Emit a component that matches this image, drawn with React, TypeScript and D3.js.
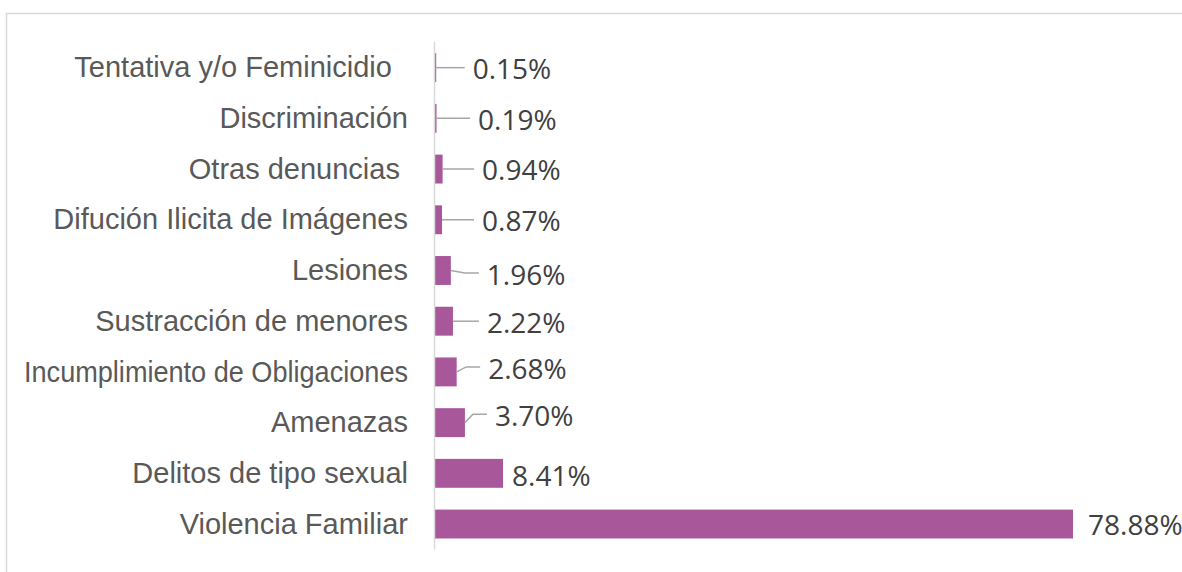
import React, { useLayoutEffect, useRef } from "react";
import * as d3 from "d3";

const categories = [
  "Tentativa y/o Feminicidio  ",
  "Discriminación",
  "Otras denuncias ",
  "Difución Ilicita de Imágenes",
  "Lesiones",
  "Sustracción de menores",
  "Incumplimiento de Obligaciones",
  "Amenazas",
  "Delitos de tipo sexual",
  "Violencia Familiar",
];
const values = [0.15, 0.19, 0.94, 0.87, 1.96, 2.22, 2.68, 3.7, 8.41, 78.88];
const valueLabels = ["0.15%", "0.19%", "0.94%", "0.87%", "1.96%", "2.22%", "2.68%", "3.70%", "8.41%", "78.88%"];
// label placement offsets (px) relative to bar end / bar centre
const labelDx = [36.5, 41.5, 39.5, 40, 36, 34, 31.5, 30, 9, 15];
const labelDy = [1.3, 1.5, 1, 1, 4.5, 1.5, -3, -6.5, 2.5, 1];
const hasLeader = [true, true, true, true, true, true, true, true, false, false];

const W = 1182;
const H = 572;
const LABEL_RIGHT = 408;
const LABEL_MAX_W = 384;

export default function App() {
  const gRef = useRef<SVGGElement | null>(null);
  const x = d3.scaleLinear().domain([0, 78.88]).range([435, 1073]);
  const y = d3
    .scaleBand<string>()
    .domain(categories)
    .range([42.3, 549.4])
    .paddingInner(0.43)
    .paddingOuter(0.215);
  const bw = y.bandwidth();

  useLayoutEffect(() => {
    if (!gRef.current) return;
    d3.select(gRef.current)
      .selectAll<SVGTextElement, unknown>("text")
      .each(function () {
        const len = this.getComputedTextLength();
        if (len > LABEL_MAX_W) {
          this.setAttribute("textLength", String(LABEL_MAX_W));
          this.setAttribute("lengthAdjust", "spacingAndGlyphs");
        }
      });
  }, []);

  return (
    <svg
      width={W}
      height={H}
      style={{ position: "absolute", left: 0, top: 0, background: "#fff" }}
    >
      <rect x={6.5} y={13.5} width={W + 10} height={H + 10} fill="#fff" stroke="#d9d9d9" strokeWidth={1.5} />
      <g ref={gRef}>
        {categories.map((c, i) => {
          const cy = (y(c) as number) + bw / 2;
          return (
            <text
              key={"c" + i}
              x={LABEL_RIGHT}
              y={cy + 9.7}
              textAnchor="end"
              fontFamily="Arial, Liberation Sans, sans-serif"
              fontSize={29}
              fill="#595959"
              style={{ whiteSpace: "pre" }}
            >
              {c}
            </text>
          );
        })}
      </g>
      {categories.map((c, i) => (
        <rect
          key={"b" + i}
          x={x(0)}
          y={y(c) as number}
          width={x(values[i]) - x(0)}
          height={bw}
          fill="#a8589a"
        />
      ))}
      <line x1={434.5} x2={434.5} y1={42} y2={549.5} stroke="#d9d9d9" strokeWidth={1.5} />
      {categories.map((c, i) => {
        const cy = (y(c) as number) + bw / 2;
        const bx = x(values[i]);
        const tx = bx + labelDx[i];
        const tc = cy + labelDy[i];
        const ly = Math.abs(tc - 2 - cy) < 1.5 ? cy : tc - 2;
        const ex = tx - 8;
        const hx = ex - 14;
        return (
          <g key={"l" + i}>
            {hasLeader[i] && (
              <polyline
                points={`${bx},${cy} ${hx},${ly} ${ex},${ly}`}
                fill="none"
                stroke="#a6a6a6"
                strokeWidth={1.5}
              />
            )}
            <text
              x={tx}
              y={tc + 10}
              fontFamily="'Open Sans', sans-serif"
              fontSize={28}
              fill="#404040"
            >
              {valueLabels[i]}
            </text>
          </g>
        );
      })}
    </svg>
  );
}
